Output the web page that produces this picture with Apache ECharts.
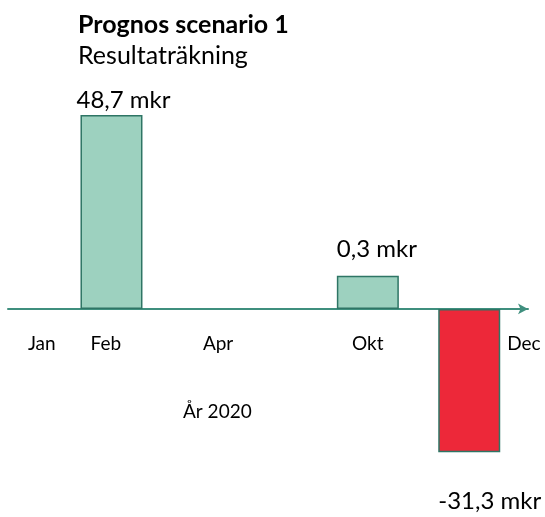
<!DOCTYPE html>
<html>
<head>
<meta charset="utf-8">
<script src="https://cdn.jsdelivr.net/npm/echarts@6/dist/echarts.min.js"></script>
<style>
  html, body { margin: 0; padding: 0; background: #fff; }
  #chart { width: 545px; height: 517px; }
</style>
</head>
<body>
<div id="chart"></div>
<script>
// ===== 数据 =====
var months    = ['Jan', 'Feb', 'Apr', 'Okt', 'Dec'];
var monthPos  = [6.5, 18.8, 40.4, 69.2, 99.2];     // tick positions on the time line
var barPos    = [19.9, 69.2, 88.7];               // Feb, Okt, Dec
var barValues = [48.7, 8.3, -36];                 // drawn heights (not to scale in the source)
var barLabels = ['48,7 mkr', '0,3 mkr', '-31,3 mkr'];

var FONT = 'Lato, "Noto Sans", sans-serif';
var chart = echarts.init(document.getElementById('chart'));

var labelDist = [3, 15, 37];
var barData = barPos.map(function (x, i) {
    var neg = barValues[i] < 0;
    return {
        value: [x, barValues[i]],
        itemStyle: { color: neg ? '#ed2839' : '#9dd1bf' },
        label: {
            show: true,
            formatter: barLabels[i],
            position: neg ? 'bottom' : 'top',
            align: 'left',
            distance: labelDist[i],
            offset: [i === 0 ? -35 : -31, 0]
        }
    };
});

chart.setOption({
    backgroundColor: '#fff',
    animation: false,
    title: [
        { text: 'Prognos scenario 1', left: 73, top: 7,
          textStyle: { fontFamily: FONT, fontSize: 25, fontWeight: 'bold', color: '#000' } },
        { text: 'Resultaträkning', left: 73, top: 38,
          textStyle: { fontFamily: FONT, fontSize: 25, fontWeight: 'normal', color: '#000' } },
        { text: 'År 2020', left: 178, top: 397,
          textStyle: { fontFamily: FONT, fontSize: 19, fontWeight: 'normal', color: '#000' } }
    ],
    grid: [
        // main plot: zero line at y≈309
        { left: 8, right: 17, top: 70, bottom: 9, outerBoundsMode: 'none' },
        // thin strip whose bottom edge sits on the zero line, carries month labels
        { left: 8, right: 17, top: 300, height: 9, outerBoundsMode: 'none' }
    ],
    xAxis: [{
        gridIndex: 0,
        type: 'value', min: 0, max: 100,
        splitLine: { show: false },
        axisTick: { show: false },
        axisLabel: { show: false },
        axisLine: {
            show: true, onZero: true,
            symbol: ['none', 'arrow'], symbolSize: [8, 10],
            lineStyle: { color: '#3f8f7e', width: 2 }
        }
    }, {
        gridIndex: 1,
        type: 'value', min: 0, max: 100,
        splitLine: { show: false },
        axisTick: { show: false },
        axisLine: { show: false },
        axisLabel: {
            customValues: monthPos,
            margin: 25,
            fontFamily: FONT, fontSize: 19, color: '#000',
            formatter: function (v) {
                var k = monthPos.indexOf(v);
                return k >= 0 ? months[k] : '';
            }
        }
    }],
    yAxis: [
        { gridIndex: 0, type: 'value', min: -50, max: 60, show: false },
        { gridIndex: 1, type: 'value', min: 0, max: 1, show: false }
    ],
    series: [{
        type: 'bar',
        xAxisIndex: 0, yAxisIndex: 0,
        barWidth: 62,
        data: barData,
        itemStyle: { borderColor: '#2e7565', borderWidth: 1.5 },
        label: { fontFamily: FONT, fontSize: 24, color: '#000' }
    }]
});
</script>
</body>
</html>
